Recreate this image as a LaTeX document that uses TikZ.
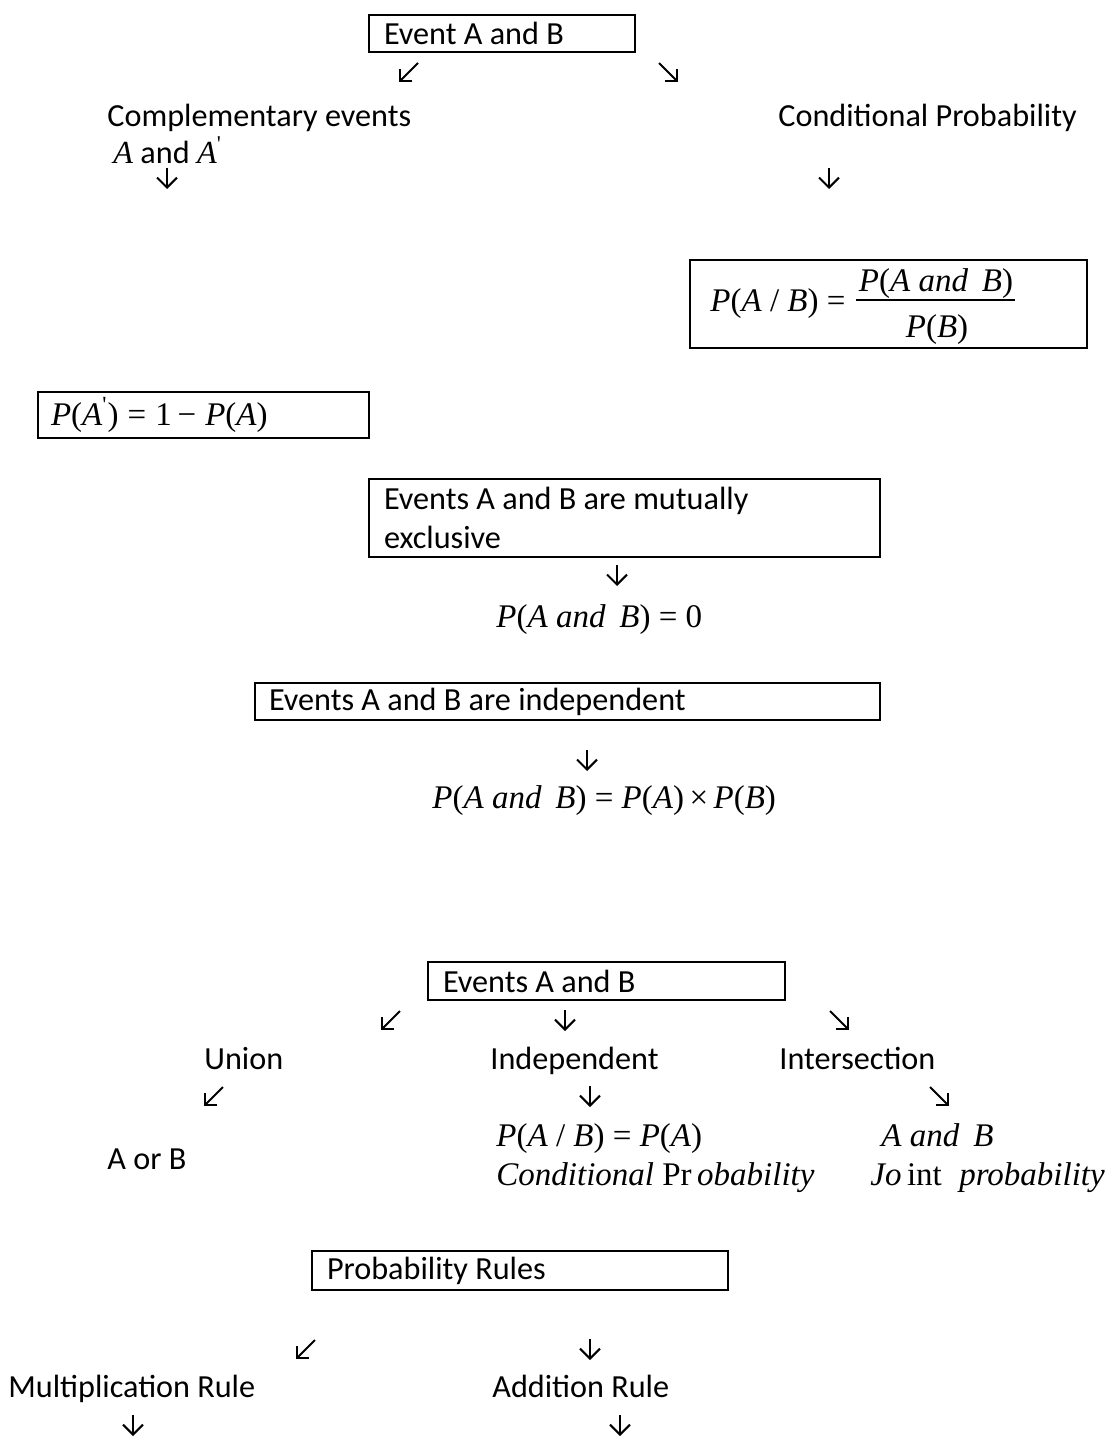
\documentclass[tikz,border=0pt]{standalone}
\usepackage{fontspec}
\setmainfont{Carlito}
\newfontfamily\tms{Liberation Serif}
\usetikzlibrary{arrows.meta}
\newcommand\mi[1]{\textit{#1}}
\newcommand\prm{\textsuperscript{\textquotesingle}}

\begin{document}
\begin{tikzpicture}[x=0.5pt,y=-0.5pt,
  txt/.style={inner sep=0pt, anchor=base west, font=\fontsize{16.1}{19.5}\selectfont},
  mth/.style={inner sep=0pt, anchor=base west, font=\fontsize{16.5}{19.5}\selectfont\tms},
  box/.style={draw, line width=1pt, inner ysep=0pt, align=flush left, anchor=north west,
              font=\fontsize{16.1}{19.5}\selectfont},
  dn/.style={line width=1pt, -{Straight Barb[length=5pt,width=10pt]}},
  dg/.style={line width=1pt, -{Straight Barb[length=4.3pt,width=8.6pt]}}]

\path[use as bounding box] (0,0) rectangle (1114,1439);

% ---------- Event A and B: complements and conditional probability
\node[box, minimum width=133pt, minimum height=18.5pt, text width=118pt, inner xsep=7.5pt]
  (b1) at (368,14) {Event A and B};
\coordinate (a1s) at (418,63);  \coordinate (a1e) at (399,82);
\coordinate (a2s) at (659,63);  \coordinate (a2e) at (678,82);
\draw[dg] (a1s) -- (a1e);
\draw[dg] (a2s) -- (a2e);

\node[txt] (t1) at (107,127) {Complementary events};
\node[txt] (t2) at (778,127) {Conditional Probability};
\node[txt] (t3) at (113,164) {{\tms\mi{A}} and {\tms\mi{A}\prm}};

\coordinate (a3s) at (167,168);  \coordinate (a3e) at (167,189);
\coordinate (a4s) at (829,168);  \coordinate (a4e) at (829,189);
\draw[dn] (a3s) -- (a3e);
\draw[dn] (a4s) -- (a4e);

% conditional probability formula
\node[box, minimum width=198.5pt, minimum height=44pt] (b2) at (689,259) {};
\node[mth] (f1) at (710,311) {\mi{P}(\mi{A} / \mi{B}) =};
\node[mth, anchor=base] (f2) at (936,292) {\mi{P}(\mi{A} \mi{and}\, \mi{B})};
\node[mth, anchor=base] (f3) at (937,337) {\mi{P}(\mi{B})};
\draw[line width=0.9pt] (856,300) -- (1015,300);

% complement rule
\node[box, minimum width=165.5pt, minimum height=23pt, text width=152.5pt, inner xsep=6.5pt,
      font=\fontsize{16.5}{19.5}\selectfont\tms]
  (b3) at (37,391) {\mi{P}(\mi{A}\prm)\;=\;1\,−\;\mi{P}(\mi{A})};

% ---------- mutually exclusive events
\node[box, minimum width=255.5pt, minimum height=39pt, text width=240.5pt, inner xsep=7.5pt]
  (b4) at (368,478) {Events A and B are mutually\\exclusive};
\coordinate (a5s) at (617,565);  \coordinate (a5e) at (617,586);
\draw[dn] (a5s) -- (a5e);
\node[mth] (t4) at (496,627) {\mi{P}(\mi{A} \mi{and}\, \mi{B}) = 0};

% ---------- independent events
\node[box, minimum width=312.5pt, minimum height=18.5pt, text width=298.5pt, inner xsep=7pt]
  (b5) at (254,682) {Events A and B are independent};
\coordinate (a6s) at (587,750);  \coordinate (a6e) at (587,771);
\draw[dn] (a6s) -- (a6e);
\node[mth] (t5) at (432,808) {\mi{P}(\mi{A} \mi{and}\, \mi{B}) = \mi{P}(\mi{A})\,×\,\mi{P}(\mi{B})};

% ---------- union, independence, intersection
\node[box, minimum width=178.5pt, minimum height=19pt, text width=163.5pt, inner xsep=7.5pt]
  (b6) at (427,961) {Events A and B};
\coordinate (a7s) at (400,1011);  \coordinate (a7e) at (381,1030);
\coordinate (a8s) at (565,1010);  \coordinate (a8e) at (565,1031);
\coordinate (a9s) at (830,1011);  \coordinate (a9e) at (849,1030);
\draw[dg] (a7s) -- (a7e);
\draw[dn] (a8s) -- (a8e);
\draw[dg] (a9s) -- (a9e);

\node[txt] (t6) at (204,1069) {Union};
\node[txt] (t7) at (490,1069) {Independent};
\node[txt] (t8) at (779,1069) {Intersection};

\coordinate (a10s) at (223,1087); \coordinate (a10e) at (204,1106);
\coordinate (a11s) at (590,1086); \coordinate (a11e) at (590,1107);
\coordinate (a12s) at (930,1087); \coordinate (a12e) at (949,1106);
\draw[dg] (a10s) -- (a10e);
\draw[dn] (a11s) -- (a11e);
\draw[dg] (a12s) -- (a12e);

\node[mth] (t9) at (496,1146) {\mi{P}(\mi{A} / \mi{B}) = \mi{P}(\mi{A})};
\node[mth] (t10) at (881,1146) {\mi{A} \mi{and}\, \mi{B}};
\node[txt] (t11) at (107,1169) {A or B};
\node[mth] (t12) at (496,1185) {\mi{Conditional} Pr\,\mi{obability}};
\node[mth] (t13) at (870,1185) {\mi{Jo}\,int\; \mi{probability}};

% ---------- probability rules
\node[box, minimum width=208pt, minimum height=19.5pt, text width=193pt, inner xsep=7.5pt]
  (b7) at (311,1250) {Probability Rules};
\coordinate (a13s) at (315,1340); \coordinate (a13e) at (296,1359);
\coordinate (a14s) at (590,1339); \coordinate (a14e) at (590,1360);
\draw[dg] (a13s) -- (a13e);
\draw[dn] (a14s) -- (a14e);

\node[txt] (t14) at (8,1397) {Multiplication Rule};
\node[txt] (t15) at (492,1397) {Addition Rule};

\coordinate (a15s) at (133,1415); \coordinate (a15e) at (133,1436);
\coordinate (a16s) at (620,1415); \coordinate (a16e) at (620,1436);
\draw[dn] (a15s) -- (a15e);
\draw[dn] (a16s) -- (a16e);
\end{tikzpicture}
\end{document}
